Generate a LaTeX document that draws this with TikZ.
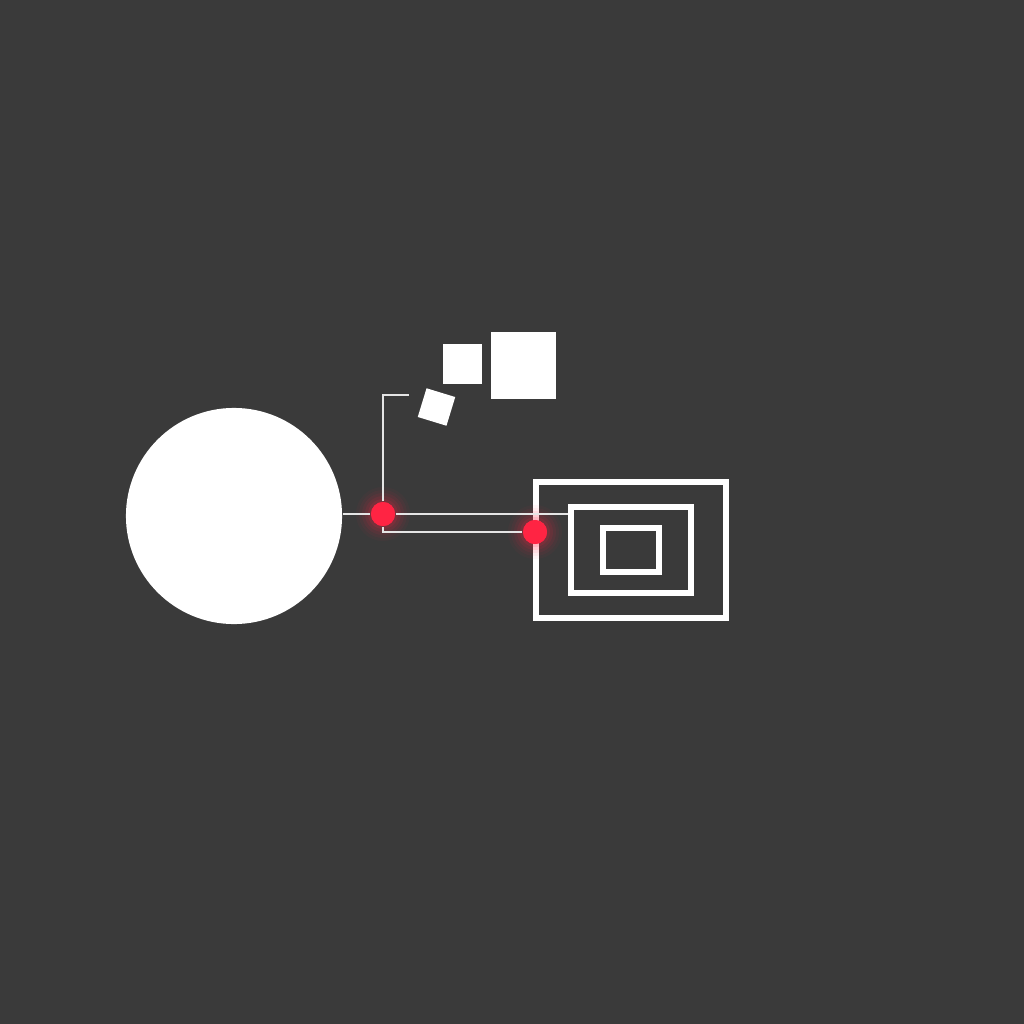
\documentclass[tikz,border=0pt]{standalone}
\usepackage{tikz}
\usetikzlibrary{positioning}
\definecolor{bgray}{HTML}{3A3A3A}
\definecolor{dotred}{HTML}{FF2443}
\begin{document}
\begin{tikzpicture}[x=0.01cm,y=-0.01cm]
	\tikzstyle{frame}=[rectangle,draw=white,line width=0.06cm,inner sep=0pt]
	\tikzstyle{block}=[rectangle,fill=white,inner sep=0pt]
	\tikzstyle{dot}=[circle,fill=dotred,minimum size=0.24cm,inner sep=0pt]
	\tikzstyle{wire}=[draw=white!90!black,line width=0.02cm]
	\fill[bgray] (0,0) rectangle (1024,1024);
	\useasboundingbox (0,0) rectangle (1024,1024);
	% shapes
	\node[circle,fill=white,minimum size=2.16cm,inner sep=0pt] (ball) at (234,516) {};
	\node[frame,minimum width=1.90cm,minimum height=1.36cm] (outer) at (631,550) {};
	\node[frame,line width=0.055cm,minimum width=1.20cm,minimum height=0.86cm] (mid) at (631,550) {};
	\node[frame,minimum width=0.56cm,minimum height=0.44cm] (inner) at (631,550) {};
	\node[block,minimum width=0.39cm,minimum height=0.40cm] (sq1) at (462.5,364) {};
	\node[block,minimum width=0.65cm,minimum height=0.67cm] (sq2) at (523.5,365.5) {};
	\node[block,minimum size=0.30cm,rotate=-17] (sq3) at (436.5,407) {};
	\coordinate (hook) at (409,395);
	% glow
	\foreach \r/\o in {0.54/0.04,0.48/0.05,0.42/0.07,0.36/0.09,0.30/0.12} {
		\fill[dotred,opacity=\o] (383,514) circle[radius=\r cm/2];
		\fill[dotred,opacity=\o] (535,532) circle[radius=\r cm/2];
	}
	\node[dot] (d1) at (383,514) {};
	\node[dot] (d2) at (535,532) {};
	% wires
	\draw[wire] (ball.east |- d1) -- (d1);
	\draw[wire] (d1) -- (d1 -| mid.west);
	\draw[wire] (d1) |- (d2);
	\draw[wire] (d1) -- (d1 |- hook) -- (hook);
	\node[dot] at (d1) {};
	\node[dot] at (d2) {};
\end{tikzpicture}
\end{document}
